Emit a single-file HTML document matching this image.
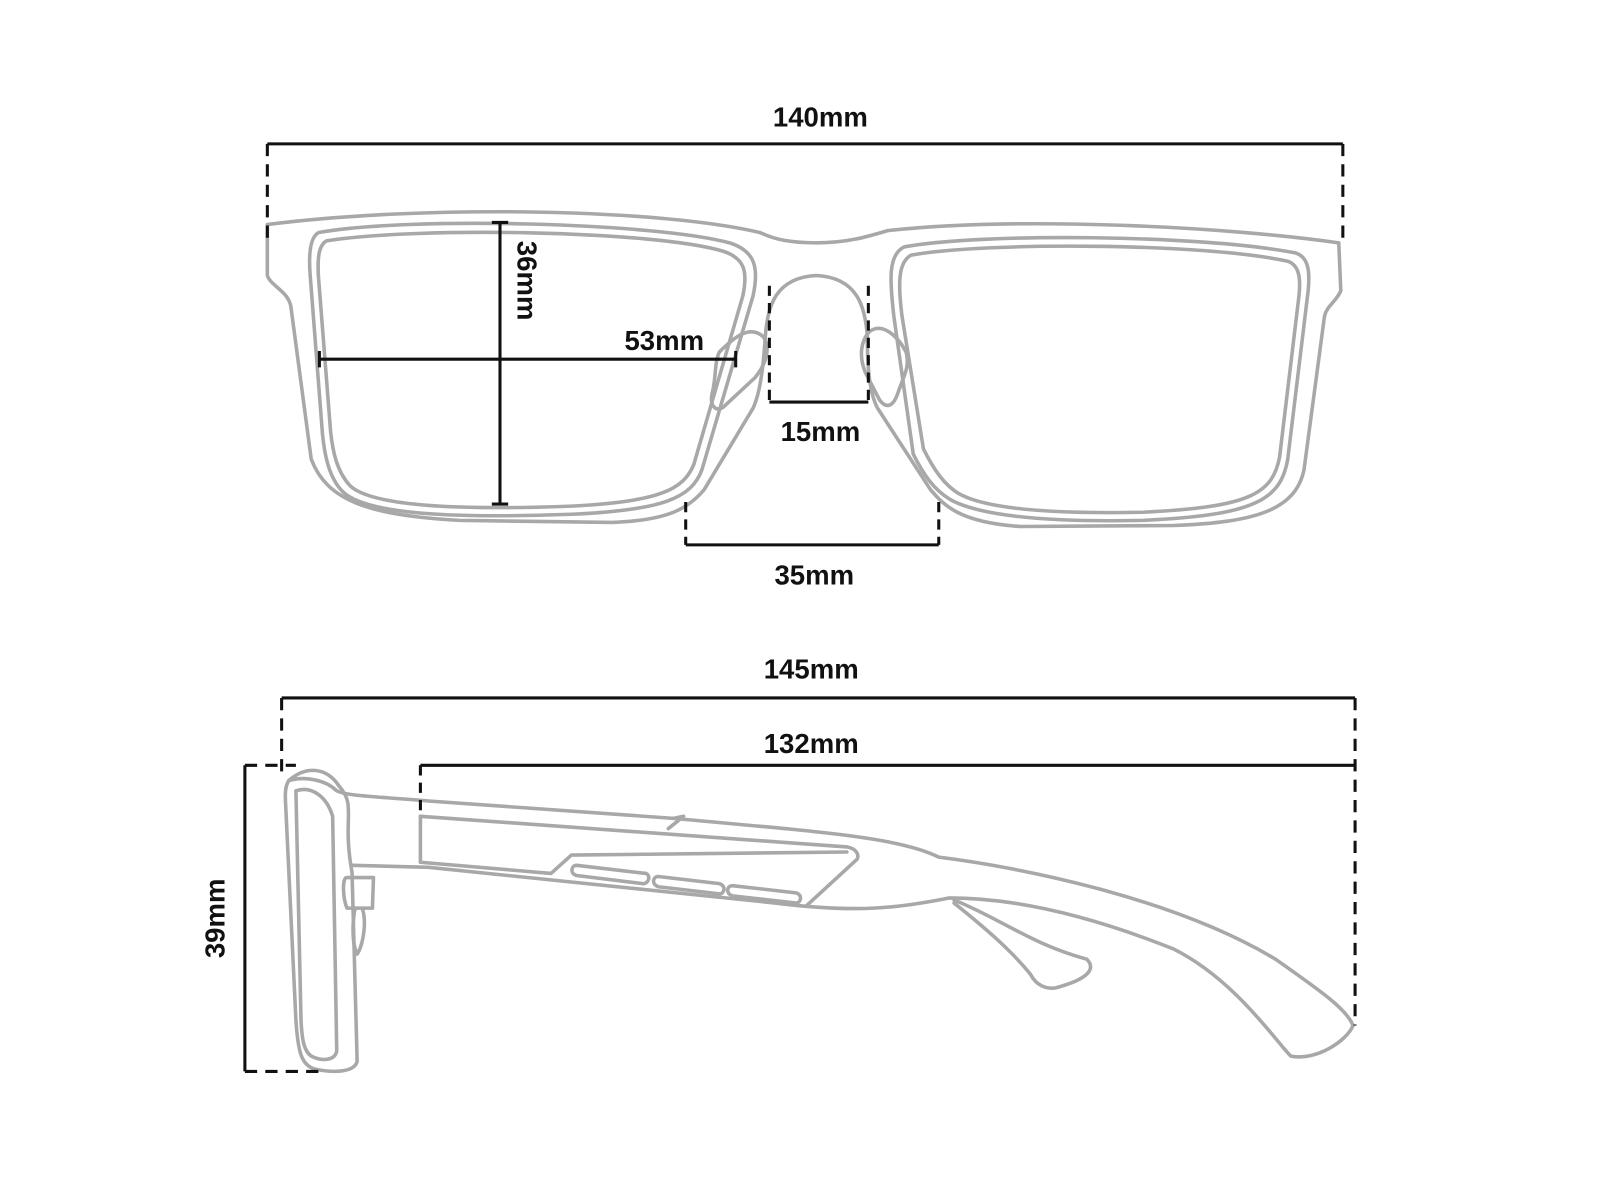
<!DOCTYPE html>
<html><head><style>
html,body{margin:0;padding:0;background:#fff;}
svg{display:block;}
text{font-family:"Liberation Sans",sans-serif;font-weight:bold;font-size:27px;fill:#111;}
</style></head><body>
<svg width="1601" height="1201" viewBox="0 0 1569 1177" preserveAspectRatio="none" xmlns="http://www.w3.org/2000/svg">
<g fill="none" stroke="#a8a8a8" stroke-width="3.5" stroke-linejoin="round" stroke-linecap="round">
<path d="M262,220 C420,200 650,205 745,228 C760,235 775,238 800,238 C830,238 850,232 870,226 C1000,212 1200,222 1312,238 L1314,285 C1310,295 1300,300 1298,310 L1278,460 C1270,500 1230,512 1150,515 L1000,516 C940,512 925,495 912,480 L860,400 C852,385 850,360 850,330 C848,300 840,272 800,270 C760,272 752,300 750,330 C748,360 745,385 738,400 L690,480 C675,498 655,510 600,512 L450,510 C360,505 320,490 305,450 L285,300 C282,285 265,280 262,270 Z"/>
<path d="M312,228 C400,212 640,218 715,238 C740,246 744,262 738,290 L688,460 C678,488 650,500 560,504 C450,508 360,505 336,482 C322,468 318,445 316,425 L304,270 C302,245 305,232 312,228 Z"/>
<path d="M320,236 C410,222 640,226 708,246 C730,253 733,266 728,290 L680,455 C670,480 645,492 560,496 C455,500 365,497 343,476 C330,462 326,442 324,423 L312,270 C311,250 313,240 320,236 Z"/>
<path d="M886,242 C960,228 1180,230 1270,248 C1282,252 1284,265 1282,285 L1262,450 C1255,490 1230,505 1120,510 C1020,512 960,505 932,490 C915,480 905,465 895,445 L876,310 C872,275 870,250 886,242 Z"/>
<path d="M893,250 C965,237 1180,238 1262,256 C1273,260 1275,272 1273,290 L1254,448 C1247,484 1225,497 1120,502 C1025,504 965,498 940,484 C925,475 915,460 905,440 L884,310 C880,278 880,257 893,250 Z"/>
<path d="M748,330 C735,318 720,330 705,345 C700,355 702,370 698,385 C695,398 702,405 710,398 L740,370 C752,355 755,340 748,330 Z"/>
<path d="M852,325 C865,315 880,330 888,345 C892,360 885,370 880,385 C875,400 868,400 862,392 L848,365 C842,350 843,335 852,325 Z"/>
<path d="M283,765 C300,750 320,752 332,770 C350,790 335,800 345,855 L350,1040 C348,1050 330,1052 310,1048 C295,1045 292,1030 290,1000 L280,790 C279,775 280,770 283,765 Z"/>
<path d="M290,775 C305,770 320,780 326,800 L330,1030 C328,1040 315,1040 305,1035 C298,1030 296,1020 295,1000 Z"/>
<path d="M340,860 C335,860 336,880 340,890 L365,890 L366,860 Z"/>
<path d="M348,890 C345,905 345,925 350,935 C355,928 360,905 355,890"/>
<path d="M283,765 C300,760 320,765 330,775 C340,780 360,780 420,785 L660,802 C800,815 880,820 920,840 C1000,850 1150,880 1250,940 C1300,975 1320,990 1326,1005 C1320,1020 1290,1040 1265,1035 C1250,1020 1210,960 1150,930 C1050,890 980,880 930,880 C880,890 840,895 760,885 L420,850 L345,848"/>
<path d="M412,800 L830,830 C840,832 842,838 840,842 L790,888"/>
<path d="M412,800 L412,845 L540,856 L560,838 L830,835"/>
<path d="M660,802 L670,800 L655,812"/>
<path d="M935,882 C980,900 1010,925 1065,940 C1075,950 1065,960 1035,968 C1025,970 1015,965 1010,955 C990,930 960,905 935,885"/>
<path d="M565,848 L633,856 C638,858 636,866 630,866 L565,858 C558,856 560,848 565,848 Z"/>
<path d="M645,859 L705,866 C712,868 710,876 705,876 L645,869 C638,866 640,859 645,859 Z"/>
<path d="M718,868 L780,875 C787,877 785,885 780,885 L718,878 C711,876 712,868 718,868 Z"/>
</g>
<g fill="none" stroke="#111" stroke-width="3">
<path d="M262,141 L1316,141"/>
<path d="M262,141 L262,238 M1316,141 L1316,240" stroke-dasharray="12,8"/>
<path d="M490,218 L490,494 M482,218 L498,218 M482,494 L498,494"/>
<path d="M313,352 L721,352 M313,344 L313,360 M721,344 L721,360"/>
<path d="M754,394 L851,394"/>
<path d="M754,280 L754,394 M851,280 L851,394" stroke-dasharray="10,7"/>
<path d="M672,534 L920,534"/>
<path d="M672,492 L672,534 M920,492 L920,534" stroke-dasharray="10,7"/>
<path d="M276,684 L1328,684"/>
<path d="M276,684 L276,760 M1328,684 L1328,1005" stroke-dasharray="12,8"/>
<path d="M412,750 L1328,750"/>
<path d="M412,750 L412,800" stroke-dasharray="10,7"/>
<path d="M240,750 L240,1050"/>
<path d="M240,750 L290,750 M240,1050 L312,1050" stroke-dasharray="12,8"/>
</g>
<text x="804" y="124" text-anchor="middle">140mm</text>
<text x="651" y="343" text-anchor="middle">53mm</text>
<text x="0" y="0" transform="translate(507,236) rotate(90)">36mm</text>
<text x="804" y="432" text-anchor="middle">15mm</text>
<text x="798" y="573" text-anchor="middle">35mm</text>
<text x="795" y="665" text-anchor="middle">145mm</text>
<text x="795" y="738" text-anchor="middle">132mm</text>
<text x="0" y="0" transform="translate(220,900) rotate(-90)" text-anchor="middle">39mm</text>
</svg>
</body></html>
